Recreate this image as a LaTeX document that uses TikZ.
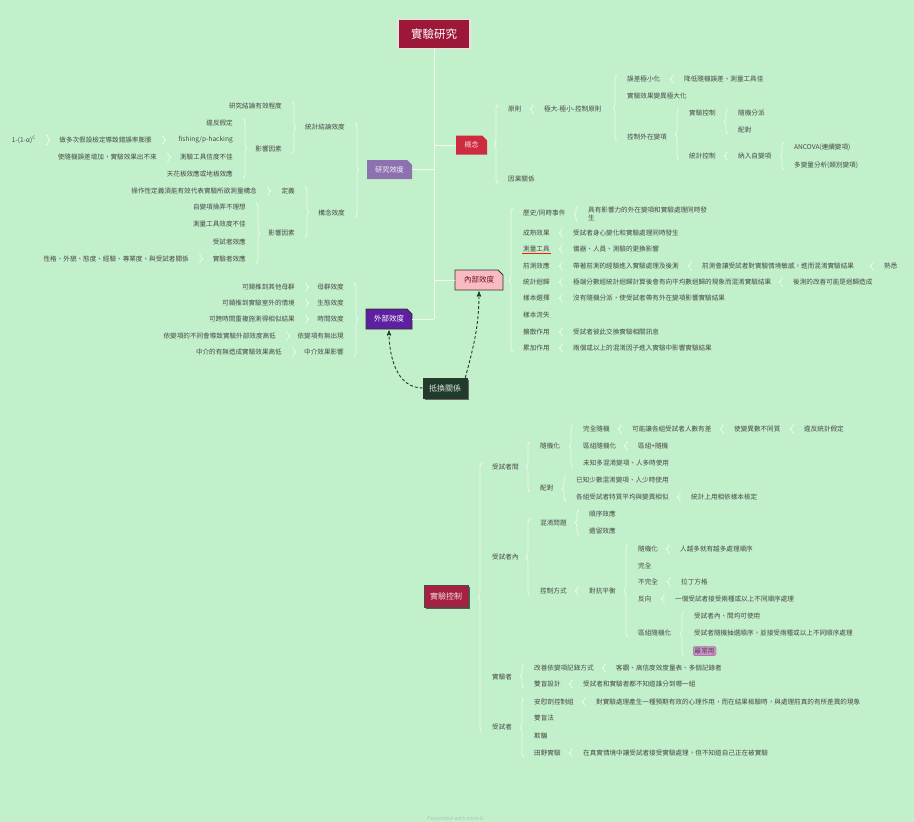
\documentclass[tikz,border=0pt]{standalone}
\usepackage{fontspec}
\setmainfont{Noto Sans CJK TC}
\usetikzlibrary{arrows, positioning, decorations.pathreplacing, shapes.misc, shadows}
\definecolor{bgmint}{RGB}{193,240,202}
\definecolor{inkgray}{RGB}{72,72,72}
\definecolor{branchwhite}{RGB}{238,251,240}
\definecolor{rootred}{RGB}{156,24,56}
\definecolor{conred}{RGB}{206,42,64}
\definecolor{rvpurple}{RGB}{141,113,177}
\definecolor{ivpink}{RGB}{248,187,193}
\definecolor{evpurple}{RGB}{92,32,160}
\definecolor{trgreen}{RGB}{31,59,43}
\definecolor{xcred}{RGB}{166,33,64}
\definecolor{mostpink}{RGB}{207,143,203}
\definecolor{wmgray}{RGB}{170,200,177}
\newcommand{\brR}[2]{\draw[brc] ([xshift=-9pt]#2.south west) -- ([xshift=-9pt]#1.north west);}
\newcommand{\brL}[2]{\draw[brc] ([xshift=9pt]#1.north east) -- ([xshift=9pt]#2.south east);}
\tikzset{
    leaf/.style={anchor=west, inner sep=1pt, text=inkgray, font=\fontsize{6.6}{8}\selectfont},
    leafl/.style={leaf, anchor=east},
    topic/.style={inner sep=0pt, align=center},
    note/.style={topic, chamfered rectangle, chamfered rectangle corners=north east,
        chamfered rectangle xsep=2.5pt, chamfered rectangle ysep=2.5pt},
    brc/.style={draw=branchwhite, line width=.7pt, decorate, decoration={brace, amplitude=4pt}},
    trunk/.style={draw=branchwhite, line width=1pt},
    rel/.style={->, >=stealth', draw=trgreen, line width=.9pt, densely dashed, shorten >=1pt},
    most/.style={leaf, fill=mostpink, draw=mostpink!70!black, rounded corners=1.5pt, inner sep=1.5pt}
}
\begin{document}
\begin{tikzpicture}[x=1pt, y=-1pt]
\fill[bgmint] (0,0) rectangle (914,822);
\useasboundingbox (0,0) rectangle (914,822);

\node[topic, fill=rootred, draw=rootred!15!white, line width=1.5pt, text=white,
      minimum width=72pt, minimum height=29pt, font=\fontsize{11.5}{13}\selectfont] (root) at (434,34) {實驗研究};
\node[note, fill=conred, text=conred!15!white, minimum width=31pt, minimum height=19pt,
      font=\fontsize{7}{8}\selectfont] (con) at (471.5,145) {概念};
\node[note, fill=rvpurple, text=rvpurple!10!white, minimum width=45pt, minimum height=19pt,
      font=\fontsize{7.2}{8}\selectfont] (rv) at (389.5,169.5) {研究效度};
\node[note, fill=ivpink, draw=black!80, line width=.8pt, text=rootred!70!black, minimum width=48pt,
      minimum height=20pt, font=\fontsize{7.5}{8}\selectfont] (iv) at (479,280) {內部效度};
\node[note, fill=evpurple, draw=black!80, line width=.8pt, text=white, minimum width=46pt,
      minimum height=20pt, font=\fontsize{7.5}{8}\selectfont] (ev) at (389,319) {外部效度};
\node[topic, fill=trgreen, draw=black!80, line width=.6pt, text=white!85!trgreen, minimum width=44pt,
      minimum height=20pt, font=\fontsize{8}{9}\selectfont,
      drop shadow={shadow xshift=1.5pt, shadow yshift=-1.5pt, fill=black!60, opacity=1}] (tr) at (445,388) {抵換關係};
\node[topic, fill=xcred, draw=black!70, line width=.6pt, text=white!85!xcred, minimum width=44pt,
      minimum height=22pt, font=\fontsize{8}{9}\selectfont,
      drop shadow={shadow xshift=1.5pt, shadow yshift=-1.5pt, fill=black!65, opacity=1}] (xc) at (446,596) {實驗控制};

\draw[trunk] (root.south) -- (root.south |- ev.east);
\draw[trunk] (root.south |- con.west) -- (con.west);
\draw[trunk] (rv.east) -- (root.south |- rv.east);
\draw[trunk] (root.south |- iv.west) -- (iv.west);
\draw[trunk] (ev.east) -- (root.south |- ev.east);
\draw[rel] (tr.west) to[out=180, in=-90] (ev.south);
\draw[rel] ([xshift=-2pt]tr.north east) to[out=75, in=-90] (iv.south);

\node[leaf] (c1)      at (507,109) {原則};
\node[leaf] (c2)      at (507,179) {因果關係};
\node[leaf] (c11)     at (543,109) {極大-極小-控制原則};
\node[leaf] (c111)    at (626,79)  {誤差極小化};
\node[leaf] (c112)    at (626,96)  {實驗效果變異極大化};
\node[leaf] (c113)    at (626,137) {控制外在變項};
\node[leaf] (c1111)   at (683,79)  {降低隨機誤差、測量工具佳};
\node[leaf] (c1131)   at (688,113) {實驗控制};
\node[leaf] (c1132)   at (688,156) {統計控制};
\node[leaf] (c11311)  at (737,113) {隨機分派};
\node[leaf] (c11312)  at (737,130) {配對};
\node[leaf] (c11321)  at (737,156) {納入自變項};
\node[leaf] (c113211) at (793,147) {ANCOVA(連續變項)};
\node[leaf] (c113212) at (793,165) {多變量分析(類別變項)};
\brR{c1}{c2}
\brR{c11}{c11}
\brR{c111}{c113}
\brR{c1111}{c1111}
\brR{c1131}{c1132}
\brR{c11311}{c11312}
\brR{c11321}{c11321}
\brR{c113211}{c113212}

\node[leafl] (r1)     at (346,127) {統計結論效度};
\node[leafl] (r2)     at (346,213) {構念效度};
\node[leafl] (r11)    at (283,106) {研究結論有效程度};
\node[leafl] (r12)    at (283,149) {影響因素};
\node[leafl] (r121)   at (234,123) {違反假定};
\node[leafl] (r122)   at (234,140) {fishing/p-hacking};
\node[leafl] (r123)   at (234,157) {測驗工具信度不佳};
\node[leafl] (r124)   at (234,174) {天花板效應或地板效應};
\node[leafl] (r1221)  at (153,140) {做多次假設檢定導致錯誤率膨脹};
\node[leafl] (r12211) at (37,140)  {1-(1-α)\textsuperscript{C}};
\node[leafl] (r1231)  at (158,157) {使隨機誤差增加，實驗效果出不來};
\node[leafl] (r21)    at (296,191) {定義};
\node[leafl] (r22)    at (296,233) {影響因素};
\node[leafl] (r211)   at (258,191) {操作性定義須能有效代表實驗所欲測量構念};
\node[leafl] (r221)   at (247,207) {自變項操弄不理想};
\node[leafl] (r222)   at (247,224) {測量工具效度不佳};
\node[leafl] (r223)   at (247,242) {受試者效應};
\node[leafl] (r224)   at (247,259) {實驗者效應};
\node[leafl] (r2241)  at (190,259) {性格、外貌、態度、經驗、專業度、與受試者關係};
\brL{r1}{r2}
\brL{r11}{r12}
\brL{r121}{r124}
\brL{r1221}{r1221}
\brL{r12211}{r12211}
\brL{r1231}{r1231}
\brL{r21}{r22}
\brL{r211}{r211}
\brL{r221}{r224}
\brL{r2241}{r2241}

\node[leaf] (i1)    at (522,213) {歷史/同時事件};
\node[leaf] (i2)    at (522,233) {成熟效果};
\node[leaf] (i3)    at (522,249) {測量工具};
\node[leaf] (i4)    at (522,266) {前測效應};
\node[leaf] (i5)    at (522,282) {統計迴歸};
\node[leaf] (i6)    at (522,298) {樣本選擇};
\node[leaf] (i7)    at (522,315) {樣本流失};
\node[leaf] (i8)    at (522,332) {擴散作用};
\node[leaf] (i9)    at (522,348) {累加作用};
\node[leaf, align=left] (i11) at (587,214) {具有影響力的外在變項和實驗處理同時發\\生};
\node[leaf] (i21)   at (572,233) {受試者身心變化和實驗處理同時發生};
\node[leaf] (i31)   at (572,249) {儀器、人員、測驗的更換影響};
\node[leaf] (i41)   at (572,266) {帶著前測的經驗進入實驗處理及後測};
\node[leaf] (i411)  at (701,266) {前測會讓受試者對實驗情境敏感，進而混淆實驗結果};
\node[leaf] (i4111) at (883,266) {熟悉};
\node[leaf] (i51)   at (572,282) {極端分數經統計迴歸計算後會有向平均數迴歸的現象而混淆實驗結果};
\node[leaf] (i511)  at (792,282) {後測的改善可能是迴歸造成};
\node[leaf] (i61)   at (572,298) {沒有隨機分派，使受試者帶有外在變項影響實驗結果};
\node[leaf] (i81)   at (572,332) {受試者彼此交換實驗相關訊息};
\node[leaf] (i91)   at (572,348) {兩個或以上的混淆因子進入實驗中影響實驗結果};
\draw[draw=red!80!orange, line width=.7pt] ([yshift=-.5pt]i3.south west) -- ([yshift=-.5pt]i3.south east);
\brR{i1}{i9}
\brR{i11}{i11}
\brR{i21}{i21}
\brR{i31}{i31}
\brR{i41}{i41}
\brR{i411}{i411}
\brR{i4111}{i4111}
\brR{i51}{i51}
\brR{i511}{i511}
\brR{i61}{i61}
\brR{i81}{i81}
\brR{i91}{i91}

\node[leafl] (e1)  at (345,287) {母群效度};
\node[leafl] (e2)  at (345,303) {生態效度};
\node[leafl] (e3)  at (345,319) {時間效度};
\node[leafl] (e4)  at (345,336) {依變項有無出現};
\node[leafl] (e5)  at (345,352) {中介效果影響};
\node[leafl] (e11) at (296,287) {可類推到其他母群};
\node[leafl] (e21) at (296,303) {可類推到實驗室外的情境};
\node[leafl] (e31) at (296,319) {可跨時間重複施測得相似結果};
\node[leafl] (e41) at (277,336) {依變項的不同會導致實驗外部效度高低};
\node[leafl] (e51) at (283,352) {中介的有無造成實驗效果高低};
\brL{e1}{e5}
\brL{e11}{e11}
\brL{e21}{e21}
\brL{e31}{e31}
\brL{e41}{e41}
\brL{e51}{e51}

\node[leaf] (x1)     at (491,467) {受試者間};
\node[leaf] (x2)     at (491,557) {受試者內};
\node[leaf] (x3)     at (491,677) {實驗者};
\node[leaf] (x4)     at (491,727) {受試者};
\node[leaf] (x11)    at (539,446) {隨機化};
\node[leaf] (x12)    at (539,488) {配對};
\node[leaf] (x111)   at (582,429) {完全隨機};
\node[leaf] (x112)   at (582,446) {區組隨機化};
\node[leaf] (x113)   at (582,463) {未知多混淆變項、人多時使用};
\node[leaf] (x1111)  at (631,429) {可能讓各組受試者人數有差};
\node[leaf] (x11111) at (733,429) {使變異數不同質};
\node[leaf] (x111111) at (803,429) {違反統計假定};
\node[leaf] (x1121)  at (637,446) {區組+隨機};
\node[leaf] (x121)   at (575,480) {已知少數混淆變項、人少時使用};
\node[leaf] (x122)   at (575,497) {各組受試者特質平均與變異相似};
\node[leaf] (x1221)  at (690,497) {統計上用相依樣本檢定};
\node[leaf] (x21)    at (539,523) {混淆問題};
\node[leaf] (x22)    at (539,591) {控制方式};
\node[leaf] (x211)   at (588,514) {順序效應};
\node[leaf] (x212)   at (588,531) {遺留效應};
\node[leaf] (x221)   at (588,591) {對抗平衡};
\node[leaf] (x2211)  at (637,549) {隨機化};
\node[leaf] (x2212)  at (637,566) {完全};
\node[leaf] (x2213)  at (637,582) {不完全};
\node[leaf] (x2214)  at (637,599) {反向};
\node[leaf] (x2215)  at (637,633) {區組隨機化};
\node[leaf] (x22111) at (679,549) {人越多就有越多處理順序};
\node[leaf] (x22131) at (680,582) {拉丁方格};
\node[leaf] (x22141) at (674,599) {一個受試者接受兩種或以上不同順序處理};
\node[leaf] (x22151) at (693,616) {受試者內、間均可使用};
\node[leaf] (x22152) at (693,633) {受試者隨機抽選順序，並接受兩種或以上不同順序處理};
\node[most] (x22153) at (693,651) {最常用};
\node[leaf] (x31)    at (533,668) {改善依變項記錄方式};
\node[leaf] (x32)    at (533,684) {雙盲設計};
\node[leaf] (x311)   at (615,668) {客觀、高信度效度量表、多個記錄者};
\node[leaf] (x321)   at (582,684) {受試者和實驗者都不知道誰分到哪一組};
\node[leaf] (x41)    at (533,702) {安慰劑控制組};
\node[leaf] (x42)    at (533,718) {雙盲法};
\node[leaf] (x43)    at (533,736) {欺騙};
\node[leaf] (x44)    at (533,753) {田野實驗};
\node[leaf] (x411)   at (595,702) {對實驗處理產生一種預期有效的心理作用，而在結果檢驗時，與處理前真的有所差異的現象};
\node[leaf] (x441)   at (582,753) {在真實情境中讓受試者接受實驗處理，但不知道自己正在被實驗};
\brR{x1}{x4}
\brR{x11}{x12}
\brR{x111}{x113}
\brR{x1111}{x1111}
\brR{x11111}{x11111}
\brR{x111111}{x111111}
\brR{x1121}{x1121}
\brR{x121}{x122}
\brR{x1221}{x1221}
\brR{x21}{x22}
\brR{x211}{x212}
\brR{x221}{x221}
\brR{x2211}{x2215}
\brR{x22111}{x22111}
\brR{x22131}{x22131}
\brR{x22141}{x22141}
\brR{x22151}{x22153}
\brR{x31}{x32}
\brR{x311}{x311}
\brR{x321}{x321}
\brR{x41}{x44}
\brR{x411}{x411}
\brR{x441}{x441}

\node[text=wmgray, font=\fontsize{5.5}{6}\selectfont] (wm) at (455,818) {Presented with xmind};
\end{tikzpicture}
\end{document}
